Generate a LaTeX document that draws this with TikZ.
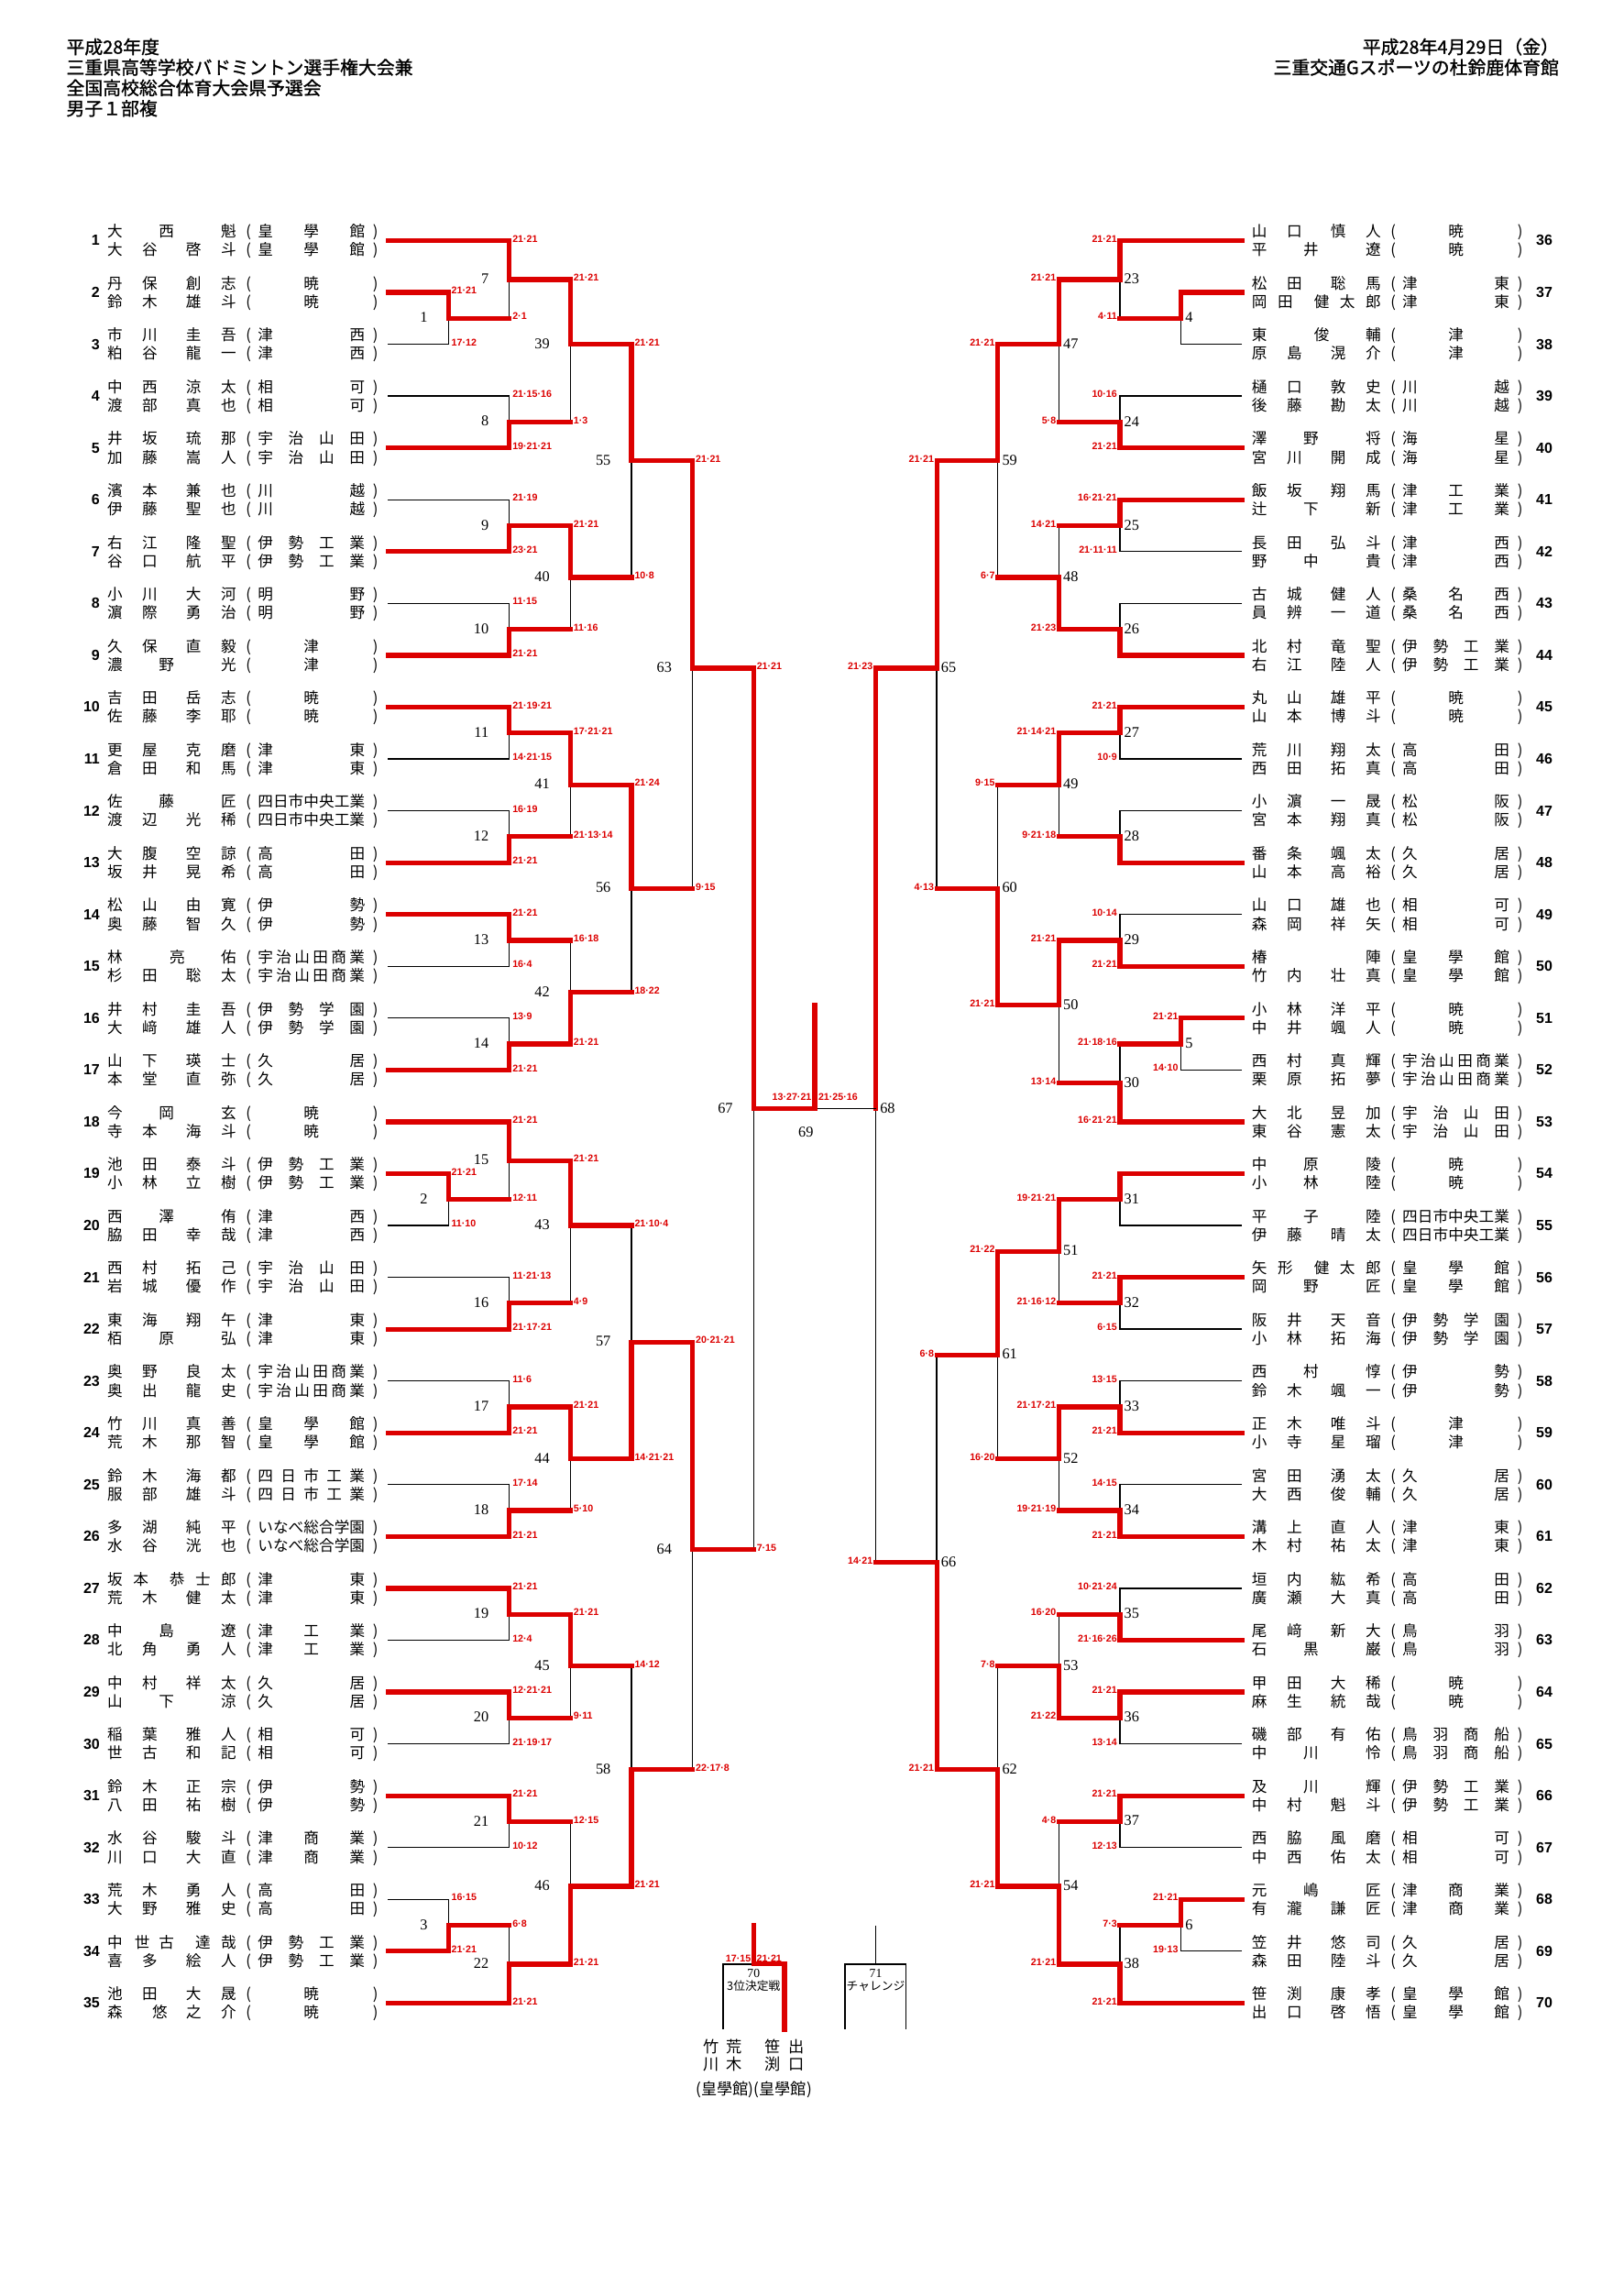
\documentclass[tikz,border=0pt]{standalone}
\usepackage{fontspec}
\setmainfont{Noto Sans CJK JP}
\newfontfamily\hdfont[FakeBold=1.2]{Noto Sans CJK JP}
\newfontfamily\arialf{Liberation Sans}
\newfontfamily\timesf{Liberation Serif}
\usetikzlibrary{calc}
\definecolor{rd}{RGB}{220,0,0}
\newlength\ux \setlength\ux{0.18936mm}
\newlength\nmlen \setlength\nmlen{77.7\ux}
\newcommand\cj[2]{\rlap{\hspace*{\dimexpr5.2\ux+#1\nmlen\relax}\makebox[0pt]{#2}}}
\newcommand\nA[4]{\cj{0}{#1}\cj{.307}{#2}\cj{.692}{#3}\cj{1}{#4}}
\newcommand\nB[3]{\cj{0}{#1}\cj{.453}{#2}\cj{1}{#3}}
\newcommand\nC[3]{\cj{0}{#1}\cj{.547}{#2}\cj{1}{#3}}
\newcommand\nD[5]{\cj{0}{#1}\cj{.227}{#2}\cj{.547}{#3}\cj{.773}{#4}\cj{1}{#5}}
\newcommand\nE[5]{\cj{0}{#1}\cj{.24}{#2}\cj{.453}{#3}\cj{.773}{#4}\cj{1}{#5}}
\newcommand\nF[4]{\cj{0}{#1}\cj{.395}{#2}\cj{.693}{#3}\cj{1}{#4}}
\newcommand\nG[2]{\cj{0}{#1}\cj{1}{#2}}
\makeatletter
\def\spr#1{\hskip0pt plus1fil\relax\spr@a#1\@nil}
\def\spr@a#1#2\@nil{#1\ifx\relax#2\relax\hskip0pt plus1fil\relax\else\hskip0pt plus1fill\relax\spr@a#2\@nil\fi}
\makeatother
\newcommand\entx[2]{#1\cj{1.175}{(}\rlap{\hspace*{102.8\ux}\makebox[73.1\ux][s]{\expandafter\spr\expandafter{#2}}}\cj{2.291}{)}}

\begin{document}
\begin{tikzpicture}[x=0.18936mm,y=-0.18936mm,
    win/.style={draw=rd,line width=0.62mm,line cap=rect},
    lose/.style={draw=black,line width=0.45pt},
    nm/.style={anchor=base west,inner sep=0,font=\fontsize{5.6}{6}\selectfont},
    numL/.style={anchor=east,inner sep=0,font=\arialf\bfseries\fontsize{5.4}{6}\selectfont},
    numR/.style={numL,anchor=west},
    scL/.style={anchor=west,inner sep=0,text=rd,font=\arialf\bfseries\fontsize{3.6}{4}\selectfont},
    scR/.style={scL,anchor=east},
    lbL/.style={anchor=east,inner sep=0,font=\timesf\fontsize{5.5}{6}\selectfont},
    lbR/.style={lbL,anchor=west},
    hd/.style={inner sep=0,font=\hdfont\fontsize{6.7}{7}\selectfont},
    small/.style={inner sep=0,font=\fontsize{4.3}{5}\selectfont},
    btm/.style={inner sep=0,align=center,font=\fontsize{5.8}{6.24}\selectfont}]
    \fill[white] (0,0) rectangle (1109,1568);
    \useasboundingbox (0,0) rectangle (1109,1568);

    \node[hd,anchor=base west] (h1) at (45,36.7) {平成28年度};
    \node[hd,anchor=base west] (h2) at (45,50.7) {三重県高等学校バドミントン選手権大会兼};
    \node[hd,anchor=base west] (h3) at (45,64.7) {全国高校総合体育大会県予選会};
    \node[hd,anchor=base west] (h4) at (45,78.7) {男子１部複};
    \node[hd,anchor=base east] (d1) at (1065,36.7) {平成28年4月29日（金）};
    \node[hd,anchor=base east] (d2) at (1065,50.7) {三重交通Gスポーツの杜鈴鹿体育館};

    \foreach \i/\na/\nb/\sch in {
        1/\nB 大西魁/\nA 大谷啓斗/皇學館, 2/\nA 丹保創志/\nA 鈴木雄斗/暁,
        3/\nA 市川圭吾/\nA 粕谷龍一/津西, 4/\nA 中西涼太/\nA 渡部真也/相可,
        5/\nA 井坂琉那/\nA 加藤嵩人/宇治山田, 6/\nA 濱本兼也/\nA 伊藤聖也/川越,
        7/\nA 右江隆聖/\nA 谷口航平/伊勢工業, 8/\nA 小川大河/\nA 濵際勇治/明野,
        9/\nA 久保直毅/\nB 濃野光/津, 10/\nA 吉田岳志/\nA 佐藤李耶/暁,
        11/\nA 更屋克磨/\nA 倉田和馬/津東, 12/\nB 佐藤匠/\nA 渡辺光稀/四日市中央工業,
        13/\nA 大腹空諒/\nA 坂井晃希/高田, 14/\nA 松山由寛/\nA 奥藤智久/伊勢,
        15/\nC 林亮佑/\nA 杉田聡太/宇治山田商業, 16/\nA 井村圭吾/\nA 大﨑雄人/伊勢学園,
        17/\nA 山下瑛士/\nA 本堂直弥/久居, 18/\nB 今岡玄/\nA 寺本海斗/暁,
        19/\nA 池田泰斗/\nA 小林立樹/伊勢工業, 20/\nB 西澤侑/\nA 脇田幸哉/津西,
        21/\nA 西村拓己/\nA 岩城優作/宇治山田, 22/\nA 東海翔午/\nB 栢原弘/津東,
        23/\nA 奥野良太/\nA 奥出龍史/宇治山田商業, 24/\nA 竹川真善/\nA 荒木那智/皇學館,
        25/\nA 鈴木海都/\nA 服部雄斗/四日市工業, 26/\nA 多湖純平/\nA 水谷洸也/いなべ総合学園,
        27/\nD 坂本恭士郎/\nA 荒木健太/津東, 28/\nB 中島遼/\nA 北角勇人/津工業,
        29/\nA 中村祥太/\nB 山下涼/久居, 30/\nA 稲葉雅人/\nA 世古和記/相可,
        31/\nA 鈴木正宗/\nA 八田祐樹/伊勢, 32/\nA 水谷駿斗/\nA 川口大直/津商業,
        33/\nA 荒木勇人/\nA 大野雅史/高田, 34/\nE 中世古達哉/\nA 喜多絵人/伊勢工業,
        35/\nA 池田大晟/\nF 森悠之介/暁}{
        \pgfmathsetmacro\yy{164.3+35.4*(\i-1)}
        \coordinate (e\i) at (265,\yy);
        \node[numL] (k\i) at (68.5,\yy) {\i};
        \node[nm] (a\i) at (72,{\yy-2.34}) {\entx{\na}{\sch}};
        \node[nm] (b\i) at (72,{\yy+10.26}) {\entx{\nb}{\sch}};
    }

    \foreach \i/\na/\nb/\sch in {
        36/\nA 山口慎人/\nB 平井遼/暁, 37/\nA 松田聡馬/\nD 岡田健太郎/津東,
        38/\nC 東俊輔/\nA 原島滉介/津, 39/\nA 樋口敦史/\nA 後藤勘太/川越,
        40/\nB 澤野将/\nA 宮川開成/海星, 41/\nA 飯坂翔馬/\nB 辻下新/津工業,
        42/\nA 長田弘斗/\nB 野中貴/津西, 43/\nA 古城健人/\nA 員辨一道/桑名西,
        44/\nA 北村竜聖/\nA 右江陸人/伊勢工業, 45/\nA 丸山雄平/\nA 山本博斗/暁,
        46/\nA 荒川翔太/\nA 西田拓真/高田, 47/\nA 小濵一晟/\nA 宮本翔真/松阪,
        48/\nA 番条颯太/\nA 山本高裕/久居, 49/\nA 山口雄也/\nA 森岡祥矢/相可,
        50/\nG 椿陣/\nA 竹内壮真/皇學館, 51/\nA 小林洋平/\nA 中井颯人/暁,
        52/\nA 西村真輝/\nA 栗原拓夢/宇治山田商業, 53/\nA 大北昱加/\nA 東谷憲太/宇治山田,
        54/\nB 中原陵/\nB 小林陸/暁, 55/\nB 平子陸/\nA 伊藤晴太/四日市中央工業,
        56/\nD 矢形健太郎/\nB 岡野匠/皇學館, 57/\nA 阪井天音/\nA 小林拓海/伊勢学園,
        58/\nB 西村惇/\nA 鈴木颯一/伊勢, 59/\nA 正木唯斗/\nA 小寺星瑠/津,
        60/\nA 宮田湧太/\nA 大西俊輔/久居, 61/\nA 溝上直人/\nA 木村祐太/津東,
        62/\nA 垣内紘希/\nA 廣瀬大真/高田, 63/\nA 尾﨑新大/\nB 石黒巌/鳥羽,
        64/\nA 甲田大稀/\nA 麻生統哉/暁, 65/\nA 磯部有佑/\nB 中川怜/鳥羽商船,
        66/\nB 及川輝/\nA 中村魁斗/伊勢工業, 67/\nA 西脇風磨/\nA 中西佑太/相可,
        68/\nB 元嶋匠/\nA 有瀧謙匠/津商業, 69/\nA 笠井悠司/\nA 森田陸斗/久居,
        70/\nA 笹渕康孝/\nA 出口啓悟/皇學館}{
        \pgfmathsetmacro\yy{164.3+35.4*(\i-36)}
        \coordinate (e\i) at (848.3,\yy);
        \node[numR] (k\i) at (1048.8,\yy) {\i};
        \node[nm] (a\i) at (853.7,{\yy-2.34}) {\entx{\na}{\sch}};
        \node[nm] (b\i) at (853.7,{\yy+10.26}) {\entx{\nb}{\sch}};
    }

    \foreach \m/\wi/\lo/\x/\h/\scw/\scl/\q in {
        1/e2/e3/306.2/lose/21·21/17·12/6, 2/e19/e20/306.2/lose/21·21/11·10/74,
        3/e34/e33/306.2/lose/21·21/16·15/130,
        7/e1/m1/347.9/win/21·21/2·1/3, 8/e5/e4/347.9/lose/19·21·21/21·15·16/14,
        9/e7/e6/347.9/lose/23·21/21·19/22, 10/e9/e8/347.9/lose/21·21/11·15/30,
        11/e10/e11/347.9/lose/21·19·21/14·21·15/38, 12/e13/e12/347.9/lose/21·21/16·19/46,
        13/e14/e15/347.9/lose/21·21/16·4/54, 14/e17/e16/347.9/lose/21·21/13·9/62,
        15/e18/m2/347.9/win/21·21/12·11/71, 16/e22/e21/347.9/lose/21·17·21/11·21·13/82,
        17/e24/e23/347.9/lose/21·21/11·6/90, 18/e26/e25/347.9/lose/21·21/17·14/98,
        19/e27/e28/347.9/lose/21·21/12·4/106, 20/e29/e30/347.9/lose/12·21·21/21·19·17/114,
        21/e31/e32/347.9/lose/21·21/10·12/122, 22/e35/m3/347.9/win/21·21/6·8/133,
        39/m7/m8/389.6/win/21·21/1·3/8, 40/m9/m10/389.6/win/21·21/11·16/26,
        41/m11/m12/389.6/win/17·21·21/21·13·14/42, 42/m14/m13/389.6/win/21·21/16·18/58,
        43/m15/m16/389.6/win/21·21/4·9/76, 44/m17/m18/389.6/win/21·21/5·10/94,
        45/m19/m20/389.6/win/21·21/9·11/110, 46/m22/m21/389.6/win/21·21/12·15/127,
        55/m39/m40/431.3/win/21·21/10·8/17, 56/m41/m42/431.3/win/21·24/18·22/50,
        57/m44/m43/431.3/win/14·21·21/21·10·4/85, 58/m46/m45/431.3/win/21·21/14·12/118,
        63/m55/m56/473.0/win/21·21/9·15/33, 64/m57/m58/473.0/win/20·21·21/22·17·8/101,
        67/m63/m64/514.7/win/21·21/7·15/67}{
        \pgfmathsetmacro\yy{164.3+8.85*\q}
        \coordinate (m\m) at (\x,\yy);
        \draw[lose] (\lo) -| (m\m);
        \draw[\h] (\lo) -- (\lo -| m\m);
        \draw[win] (\wi) -| (m\m);
        \node[scL] (sw\m) at ($(\wi -| m\m)+(1.8,-1.3)$) {\scw};
        \node[scL] (sl\m) at ($(\lo -| m\m)+(1.8,-1.3)$) {\scl};
        \node[lbL] (n\m) at ($(m\m)+(-13.8,-0.5)$) {\m};
    }

    \foreach \m/\wi/\lo/\x/\h/\scw/\scl/\q in {
        4/e37/e38/806.6/lose/{}/{}/6, 5/e51/e52/806.6/lose/21·21/14·10/62,
        6/e68/e69/806.6/lose/21·21/19·13/130,
        23/e36/m4/764.9/win/21·21/4·11/3, 24/e40/e39/764.9/lose/21·21/10·16/14,
        25/e41/e42/764.9/lose/16·21·21/21·11·11/22, 26/e44/e43/764.9/lose/{}/{}/30,
        27/e45/e46/764.9/lose/21·21/10·9/38, 28/e48/e47/764.9/lose/{}/{}/46,
        29/e50/e49/764.9/lose/21·21/10·14/54, 30/e53/m5/764.9/win/16·21·21/21·18·16/65,
        31/e54/e55/764.9/lose/{}/{}/74, 32/e56/e57/764.9/lose/21·21/6·15/82,
        33/e59/e58/764.9/lose/21·21/13·15/90, 34/e61/e60/764.9/lose/21·21/14·15/98,
        35/e63/e62/764.9/lose/21·16·26/10·21·24/106, 36/e64/e65/764.9/lose/21·21/13·14/114,
        37/e66/e67/764.9/lose/21·21/12·13/122, 38/e70/m6/764.9/win/21·21/7·3/133,
        47/m23/m24/723.2/win/21·21/5·8/8, 48/m26/m25/723.2/win/21·23/14·21/26,
        49/m27/m28/723.2/win/21·14·21/9·21·18/42, 50/m29/m30/723.2/win/21·21/13·14/59,
        51/m31/m32/723.2/win/19·21·21/21·16·12/78, 52/m33/m34/723.2/win/21·17·21/19·21·19/94,
        53/m36/m35/723.2/win/21·22/16·20/110, 54/m38/m37/723.2/win/21·21/4·8/127,
        59/m47/m48/681.5/win/21·21/6·7/17, 60/m50/m49/681.5/win/21·21/9·15/50,
        61/m51/m52/681.5/win/21·22/16·20/86, 62/m54/m53/681.5/win/21·21/7·8/118,
        65/m59/m60/639.8/win/21·21/4·13/33, 66/m62/m61/639.8/win/21·21/6·8/102,
        68/m65/m66/598.1/win/21·23/14·21/67}{
        \pgfmathsetmacro\yy{164.3+8.85*\q}
        \coordinate (m\m) at (\x,\yy);
        \draw[lose] (\lo) -| (m\m);
        \draw[\h] (\lo) -- (\lo -| m\m);
        \draw[win] (\wi) -| (m\m);
        \node[scR] (sw\m) at ($(\wi -| m\m)+(-1.6,-1.3)$) {\scw};
        \node[scR] (sl\m) at ($(\lo -| m\m)+(-1.6,-1.3)$) {\scl};
        \node[lbR] (n\m) at ($(m\m)+(2.6,-0.5)$) {\m};
    }

    \coordinate (m69) at (556.4,{164.3+8.85*67});
    \coordinate (c69) at (556.4,686.4);
    \draw[lose] (m68) -- (m69);
    \draw[win] (m67) -- (m69) -- (c69);
    \node[scR] (sw69) at ($(m69)+(-1.8,-8.4)$) {13·27·21};
    \node[scL] (sl69) at ($(m69)+(2.2,-8.4)$) {21·25·16};
    \node[lbL,anchor=center] (n69) at (550.4,773) {69};

    \coordinate (t70) at (514.7,1315);
    \coordinate (p70) at (514.7,1341.3);
    \coordinate (a70) at (493.8,1385.8);
    \coordinate (b70) at (535.8,1385.8);
    \draw[lose] (a70) |- (p70);
    \draw[win] (t70) -- (p70);
    \draw[win] (b70) |- (p70);
    \node[scR] (sa70) at (513.2,1337.3) {17·15};
    \node[scL] (sb70) at (516.4,1337.3) {21·21};
    \node[small,font=\timesf\fontsize{4.6}{5}\selectfont] (n70) at (514.7,1347.5) {70};
    \node[small] (g70) at (514.7,1356.5) {3位決定戦};

    \coordinate (t71) at (598.1,1315);
    \coordinate (p71) at (598.1,1341.3);
    \coordinate (a71) at (577.2,1385.8);
    \coordinate (b71) at (618.9,1385.8);
    \draw[lose] (a71) |- (p71) -| (b71);
    \draw[lose] (t71) -- (p71);
    \node[small,font=\timesf\fontsize{4.6}{5}\selectfont] (n71) at (598.1,1347.5) {71};
    \node[small] (g71) at (598.1,1356.5) {チャレンジ};

    \node[btm] (v1) at (485.9,1403.6) {竹\\川};
    \node[btm] (v2) at (501.6,1403.6) {荒\\木};
    \node[btm] (v3) at (528.0,1403.6) {笹\\渕};
    \node[btm] (v4) at (543.7,1403.6) {出\\口};
    \node[btm] (v5) at (514.9,1427.3) {(皇學館)(皇學館)};
\end{tikzpicture}
\end{document}
